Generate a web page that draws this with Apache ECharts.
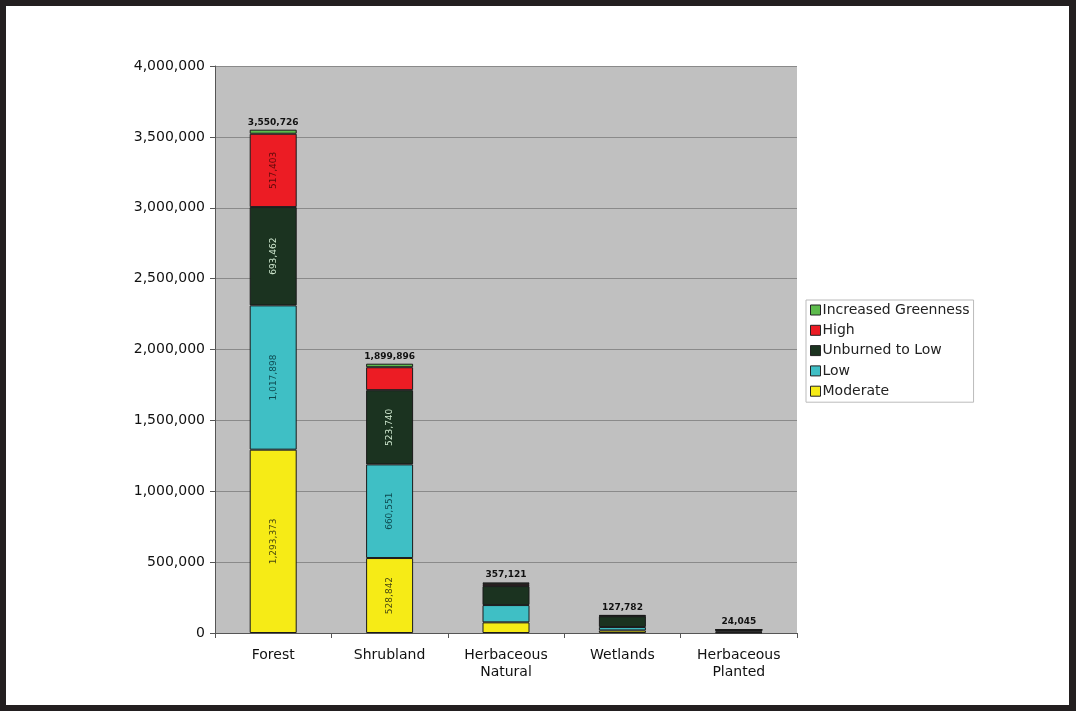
<!DOCTYPE html>
<html><head><meta charset="utf-8">
<script src="https://cdn.jsdelivr.net/npm/echarts@6/dist/echarts.min.js"></script>
<style>
html,body{margin:0;padding:0;background:#fff;}
#c{position:absolute;left:0;top:0;width:1076px;height:711px;}
#f{position:absolute;left:0;top:0;width:1076px;height:711px;box-sizing:border-box;border-style:solid;border-color:#231f20;border-width:6px 7px 6px 6px;pointer-events:none;}
</style></head>
<body><div id="c"></div><div id="f"></div>
<script>
const categories = ['Forest', 'Shrubland', 'Herbaceous\nNatural', 'Wetlands', 'Herbaceous\nPlanted'];
const moderate = [1293373, 528842, 75000, 18000, 4000];
const low = [1017898, 660551, 122000, 24000, 6000];
const unburnedToLow = [693462, 523740, 134000, 76000, 12000];
const high = [517403, 161763, 14000, 2000, 1000];
const increasedGreenness = [28590, 25000, 12121, 7782, 1045];
const totals = [3550726, 1899896, 357121, 127782, 24045];
const yTicks = [0, 500000, 1000000, 1500000, 2000000, 2500000, 3000000, 3500000, 4000000];
const insideLabelShow = {
  moderate: [true, true, false, false, false],
  low: [true, true, false, false, false],
  unburned: [true, true, false, false, false],
  high: [true, false, false, false, false]
};

const fmt = v => v.toString().replace(/\B(?=(\d{3})+(?!\d))/g, ',');
const FONT = 'DejaVu Sans';

function mkData(vals, shows) {
  return vals.map((v, i) => ({value: v, label: {show: shows ? shows[i] : false}}));
}
function seg(name, vals, color, labelColor, shows) {
  return {
    name, type: 'bar', stack: 'a', barWidth: 47,
    itemStyle: {color, borderColor: '#1a1a1a', borderWidth: 1},
    label: {position: 'inside', rotate: 90, color: labelColor, fontFamily: FONT, fontSize: 9,
      formatter: p => fmt(p.value)},
    data: mkData(vals, shows)
  };
}

const chart = echarts.init(document.getElementById('c'));
chart.setOption({
  animation: false,
  backgroundColor: '#fff',
  grid: {left: 215, right: 279, top: 66, bottom: 78, show: true, backgroundColor: '#c0c0c0', borderWidth: 0},
  legend: {
    orient: 'vertical', left: 806, top: 300,
    data: ['Increased Greenness', 'High', 'Unburned to Low', 'Low', 'Moderate'],
    icon: 'rect', itemWidth: 10, itemHeight: 10, itemGap: 6.3,
    backgroundColor: '#fff', borderColor: '#bbb', borderWidth: 1, padding: [3, 4, 4, 4],
    textStyle: {fontFamily: FONT, fontSize: 14, color: '#222', padding: [0, 0, 0, -3]},
    itemStyle: {borderColor: '#222', borderWidth: 1}
  },
  xAxis: {
    type: 'category', data: categories,
    axisLine: {lineStyle: {color: '#555'}},
    axisTick: {show: true, inside: false, length: 5, lineStyle: {color: '#555'}},
    axisLabel: {fontFamily: FONT, fontSize: 14, color: '#111', margin: 14, lineHeight: 17}
  },
  yAxis: {
    type: 'value', min: 0, max: 4000000, interval: 500000,
    axisLine: {show: true, lineStyle: {color: '#555'}},
    axisTick: {show: true, length: 5, lineStyle: {color: '#555'}},
    axisLabel: {fontFamily: FONT, fontSize: 14, color: '#111', margin: 10,
      formatter: v => yTicks.includes(v) ? fmt(v) : ''},
    splitLine: {lineStyle: {color: '#8a8a8a'}}
  },
  series: [
    seg('Moderate', moderate, '#f6eb16', '#4a4a10', insideLabelShow.moderate),
    seg('Low', low, '#3fbfc5', '#0e4a50', insideLabelShow.low),
    seg('Unburned to Low', unburnedToLow, '#1b3320', '#cfe8cf', insideLabelShow.unburned),
    seg('High', high, '#ec1c24', '#5a0a0a', insideLabelShow.high),
    {
      name: 'Increased Greenness', type: 'bar', stack: 'a', barWidth: 47,
      itemStyle: {color: '#5dbb4c', borderColor: '#1a1a1a', borderWidth: 1},
      label: {show: true, position: 'top', distance: 3, fontFamily: FONT, fontSize: 9, fontWeight: 'bold', color: '#111',
        formatter: p => fmt(totals[p.dataIndex])},
      data: increasedGreenness
    }
  ]
});
</script></body></html>
